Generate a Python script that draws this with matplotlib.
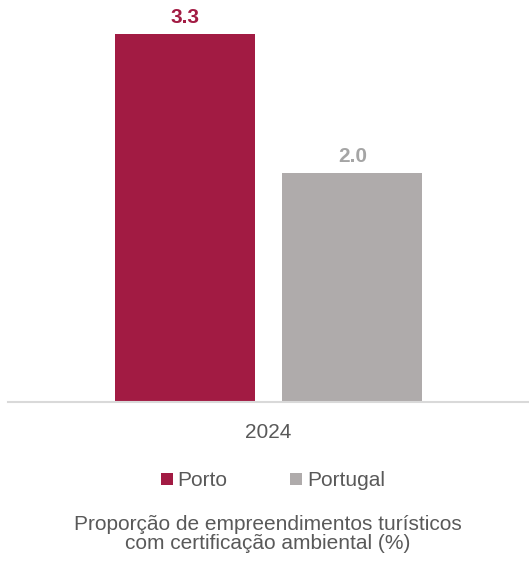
import matplotlib.pyplot as plt
from matplotlib.patches import Patch

plt.rcParams['font.family'] = ['Liberation Sans', 'DejaVu Sans']

year = ['2024']
series = ['Porto', 'Portugal']
values = [3.3, 2.05]
colors = ['#A21B43', '#AFABAB']
label_colors = ['#A21B43', '#A5A5A5']
value_labels = ['3.3', '2.0']

fig = plt.figure(figsize=(5.29, 5.63), dpi=100)
ax = fig.add_axes([8 / 529, 1 - 402 / 563, 521 / 529, 402 / 563])

offsets = [-0.161, 0.161]
width = 0.269
for off, v, txt, c, lc in zip(offsets, values, value_labels, colors, label_colors):
    ax.bar(off, v, width=width, color=c)
    ax.annotate(txt, (off, v), xytext=(0, 5), textcoords='offset points',
                ha='center', va='bottom', fontsize=15, fontweight='bold', color=lc)

ax.set_xlim(-0.5, 0.5)
ax.set_ylim(0, 3.605)
ax.set_xticks([0])
ax.set_xticklabels(year, fontsize=15, color='#595959')
ax.tick_params(axis='x', length=0, pad=15)
ax.set_yticks([])
for s in ['top', 'right', 'left']:
    ax.spines[s].set_visible(False)
ax.spines['bottom'].set_color('#D9D9D9')
ax.spines['bottom'].set_linewidth(1.5)

handles = [Patch(facecolor=c, label=s) for s, c in zip(series, colors)]
fig.legend(handles=handles, loc='center', bbox_to_anchor=(273 / 529, 1 - 481 / 563),
           ncol=2, frameon=False, fontsize=15, handlelength=0.55, handleheight=0.55,
           handletextpad=0.25, columnspacing=3.0, labelcolor='#595959')

fig.text(268 / 529, 1 - 534 / 563,
         'Proporção de empreendimentos turísticos\ncom certificação ambiental (%)',
         ha='center', va='center', fontsize=15, color='#595959', linespacing=1.05)

fig.savefig('out.png', dpi=100)
